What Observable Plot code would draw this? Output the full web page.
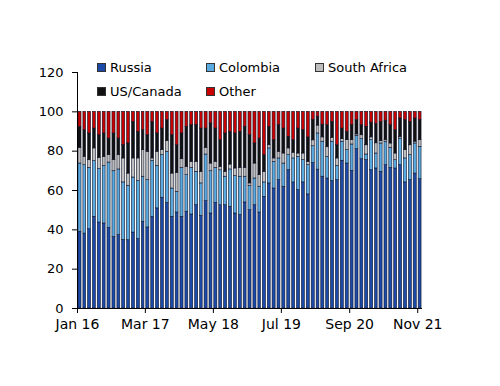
<!DOCTYPE html>
<html>
<head>
<meta charset="utf-8">
<script src="https://cdn.jsdelivr.net/npm/d3@7"></script>
<script src="https://cdn.jsdelivr.net/npm/@observablehq/plot@0.6"></script>
<style>
  html, body { margin: 0; padding: 0; background: #fff; }
  #wrap { position: relative; width: 500px; height: 386px; font-family: "DejaVu Sans", sans-serif; }
  #legend { position: absolute; left: 97px; top: 55px; display: grid; grid-template-columns: 109px 109px 109px; grid-auto-rows: 24px; font-size: 13px; color: #000; }
  .item { display: flex; align-items: center; gap: 4px; white-space: nowrap; }
  .sw { width: 7px; height: 7px; border: 0.8px solid #333; }
</style>
</head>
<body>
<div id="wrap"></div>
<script>
// Categories
const countries = ["Russia", "Colombia", "South Africa", "US/Canada", "Other"];
const colors = ["#1b4aa8", "#5aaae2", "#bdbdbd", "#111111", "#c80000"];
// Months Jan 2016 .. Nov 2021
const months = d3.utcMonth.range(new Date(Date.UTC(2016, 0, 1)), new Date(Date.UTC(2021, 11, 1)));
// Tick labels
const tickLabels = ["Jan 16", "Mar 17", "May 18", "Jul 19", "Sep 20", "Nov 21"];
const yTicks = [0, 20, 40, 60, 80, 100, 120];

// Shares (%) by month
const russia = [39.0,38.1,40.3,46.6,43.7,43.2,41.0,36.4,37.3,34.8,34.7,38.6,35.3,44.1,41.2,46.6,50.9,56.3,53.7,46.6,
  48.8,46.6,49.2,47.8,52.5,47.1,54.6,48.3,53.7,52.5,52.5,51.7,48.3,47.5,53.9,50.0,52.5,48.8,56.8,63.6,
  61.0,65.3,61.9,70.3,64.1,60.2,64.1,58.0,74.0,70.6,67.0,66.1,64.8,65.3,75.1,73.7,70.0,81.0,75.9,75.4,
  70.3,71.2,69.5,72.9,71.5,71.2,72.9,64.1,65.3,68.6,65.8];
const colombia = [34.7,34.8,31.2,28.3,27.2,29.3,33.2,33.4,33.4,29.3,27.7,28.0,29.5,22.9,24.1,28.5,21.6,21.7,26.0,14.4,
  10.5,24.9,18.6,23.7,17.0,16.5,23.7,21.5,17.8,17.8,14.5,19.0,19.0,19.5,13.1,12.4,13.6,13.1,7.3,17.8,
  13.6,11.0,11.8,7.7,12.2,16.9,11.3,14.9,8.5,18.4,17.8,11.0,20.0,7.2,9.7,6.8,13.4,6.8,10.2,2.9,
  15.3,7.6,14.4,11.9,10.2,4.2,13.5,12.2,12.7,15.3,16.4];
const southAfrica = [8.0,4.2,3.9,6.5,5.7,4.6,3.8,5.6,7.3,12.2,6.2,9.7,11.5,13.5,14.4,1.2,7.2,2.5,5.4,7.6,
  9.7,4.4,4.2,3.1,5.1,5.9,3.4,3.9,3.1,1.7,2.5,2.5,3.9,4.5,4.5,1.2,7.6,5.9,5.4,1.6,
  1.7,3.4,5.1,3.4,2.9,1.7,3.4,1.7,3.0,4.0,2.2,4.9,2.0,3.8,1.3,5.1,2.2,0.7,2.0,4.7,
  1.4,5.2,1.2,0.8,2.2,3.4,0.9,4.2,5.0,0.9,3.4];
const usCanada = [10.7,13.6,13.6,10.1,11.5,11.9,8.4,13.6,8.4,6.8,15.3,18.6,13.5,10.2,8.4,18.6,9.3,11.0,10.7,19.5,
  14.0,13.1,20.4,18.6,18.6,22.0,9.8,20.4,16.9,13.6,19.5,16.6,17.8,18.3,20.9,24.5,10.2,18.6,8.5,9.4,
  9.3,13.5,12.7,5.9,6.4,12.7,11.9,12.4,10.5,4.5,6.5,11.2,8.1,6.7,5.4,4.2,7.6,7.3,5.1,9.4,
  7.5,9.8,9.8,9.9,9.3,11.9,9.3,15.3,11.9,11.8,10.2];
const other = [7.6,9.3,11.0,8.5,11.9,11.0,13.6,11.0,13.6,16.9,16.1,5.1,10.2,9.3,11.9,5.1,11.0,8.5,4.2,11.9,
  17.0,11.0,7.6,6.8,6.8,8.5,8.5,5.9,8.5,14.4,11.0,10.2,11.0,10.2,7.6,11.9,16.1,13.6,22.0,7.6,
  14.4,6.8,8.5,12.7,14.4,8.5,9.3,13.0,4.0,2.5,6.5,6.8,5.1,17.0,8.5,10.2,6.8,4.2,6.8,7.6,
  5.5,6.2,5.1,4.5,6.8,9.3,3.4,4.2,5.1,3.4,4.2];

const series = [russia, colombia, southAfrica, usCanada, other];
const data = [];
months.forEach((m, i) => {
  countries.forEach((c, k) => data.push({date: m, country: c, share: series[k][i]}));
});
const fmt = d3.utcFormat("%b %y");
const tickDates = months.filter(m => tickLabels.includes(fmt(m)));

const chart = Plot.plot({
  width: 500,
  height: 386,
  marginLeft: 77,
  marginRight: 78,
  marginTop: 72,
  marginBottom: 78,
  style: {fontFamily: "DejaVu Sans, sans-serif", fontSize: "13px", color: "#000", background: "#fff"},
  x: {type: "utc", domain: [months[0], d3.utcMonth.offset(months[months.length - 1], 1)]},
  y: {domain: [0, 120]},
  color: {domain: countries, range: colors},
  marks: [
    Plot.rectY(data, {
      x: "date", interval: "month", y: "share", fill: "country", order: countries,
      insetLeft: 0.95, insetRight: 0.95, stroke: "#10142a", strokeWidth: 0.6
    }),
    Plot.axisY({ticks: yTicks, tickSize: 5, tickPadding: 9, fontSize: 13, label: null}),
    Plot.axisX({ticks: tickDates, tickFormat: fmt, tickSize: 5, tickPadding: 6, fontSize: 14, label: null}),
    Plot.ruleX([months[0]], {stroke: "#000", strokeWidth: 1}),
    Plot.ruleY([0], {stroke: "#000", strokeWidth: 1})
  ]
});

const wrap = document.getElementById("wrap");
wrap.appendChild(chart);
const legend = document.createElement("div");
legend.id = "legend";
countries.forEach((name, k) => {
  const it = document.createElement("div");
  it.className = "item";
  const sw = document.createElement("span");
  sw.className = "sw";
  sw.style.background = colors[k];
  const t = document.createElement("span");
  t.textContent = name;
  it.appendChild(sw); it.appendChild(t);
  legend.appendChild(it);
});
wrap.appendChild(legend);
</script>
</body>
</html>
